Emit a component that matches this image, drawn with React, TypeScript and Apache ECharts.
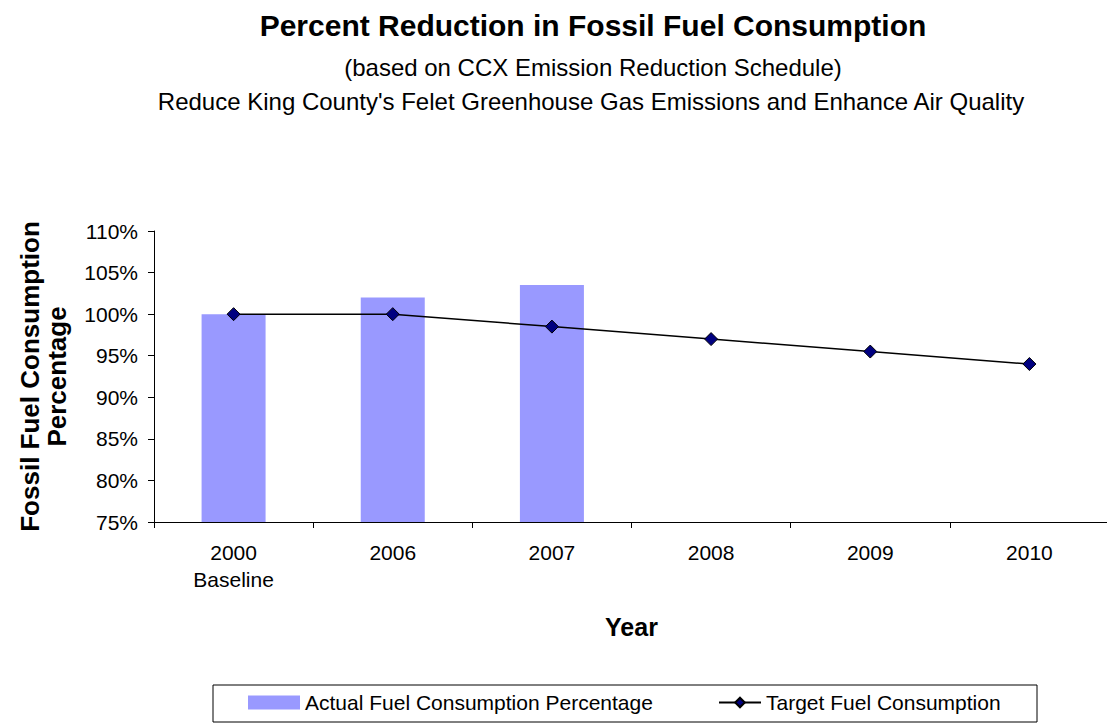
import React, { useEffect, useRef } from "react";
import * as echarts from "echarts";

const categories = ["2000\nBaseline", "2006", "2007", "2008", "2009", "2010"];
const actualValues: (number | null)[] = [100, 102, 103.5, null, null, null];
const targetValues = [100, 100, 98.5, 97, 95.5, 94];
const yTicks = { min: 75, max: 110, interval: 5 };

const FONT = "'Liberation Sans', Arial, sans-serif";

export default function App() {
  const ref = useRef<HTMLDivElement>(null);
  useEffect(() => {
    if (!ref.current) return;
    const chart = echarts.init(ref.current, undefined, { renderer: "svg" });
    chart.setOption({
      animation: false,
      backgroundColor: "#ffffff",
      textStyle: { fontFamily: FONT, color: "#000" },
      title: [
        {
          text: "Percent Reduction in Fossil Fuel Consumption",
          left: 593,
          top: 10,
          padding: 0,
          textAlign: "center",
          textStyle: { fontFamily: FONT, fontSize: 30, fontWeight: "bold", color: "#000" },
        },
        {
          text: "(based on CCX Emission Reduction Schedule)",
          left: 593,
          top: 55,
          padding: 0,
          textAlign: "center",
          textStyle: { fontFamily: FONT, fontSize: 24, fontWeight: "normal", color: "#000" },
        },
        {
          text: "Reduce King County's Felet Greenhouse Gas Emissions and Enhance Air Quality",
          left: 591,
          top: 89,
          padding: 0,
          textAlign: "center",
          textStyle: { fontFamily: FONT, fontSize: 24, fontWeight: "normal", color: "#000" },
        },
      ],
      legend: [
        {
          left: 248,
          top: 692,
          padding: 0,
          itemWidth: 52,
          itemHeight: 14,
          textStyle: { fontFamily: FONT, fontSize: 21, color: "#000" },
          data: [{ name: "Actual Fuel Consumption Percentage", icon: "rect" }],
        },
        {
          left: 718,
          top: 692,
          padding: 0,
          itemWidth: 42,
          itemHeight: 12,
          textStyle: { fontFamily: FONT, fontSize: 21, color: "#000" },
          data: [{ name: "Target Fuel Consumption" }],
        },
      ],
      graphic: [
        {
          type: "rect",
          shape: { x: 213, y: 685, width: 824, height: 37 },
          style: { fill: "none", stroke: "#000", lineWidth: 1 },
          silent: true,
        },
      ],
      grid: {
        left: 154,
        top: 231,
        width: 955,
        height: 291,
        containLabel: false,
        outerBoundsMode: "none",
      },
      xAxis: {
        type: "category",
        data: categories,
        name: "Year",
        nameLocation: "middle",
        nameGap: 92,
        nameTextStyle: { fontFamily: FONT, fontSize: 25, fontWeight: "bold", color: "#000" },
        axisLine: { lineStyle: { color: "#000", width: 1 } },
        axisTick: { show: true, length: 6, lineStyle: { color: "#000" } },
        axisLabel: { fontFamily: FONT, fontSize: 21, color: "#000", margin: 17, lineHeight: 27 },
      },
      yAxis: {
        type: "value",
        min: yTicks.min,
        max: yTicks.max,
        interval: yTicks.interval,
        name: "Fossil Fuel Consumption\nPercentage",
        nameLocation: "middle",
        nameGap: 84,
        nameTextStyle: { fontFamily: FONT, fontSize: 26, fontWeight: "bold", color: "#000", lineHeight: 27 },
        axisLine: { show: true, lineStyle: { color: "#000", width: 1 } },
        axisTick: { show: true, length: 6, lineStyle: { color: "#000" } },
        splitLine: { show: false },
        axisLabel: { fontFamily: FONT, fontSize: 21, color: "#000", margin: 16, formatter: "{value}%" },
      },
      series: [
        {
          name: "Actual Fuel Consumption Percentage",
          type: "bar",
          data: actualValues,
          barWidth: 64,
          itemStyle: { color: "#9999FF" },
        },
        {
          name: "Target Fuel Consumption",
          type: "line",
          data: targetValues,
          symbol: "diamond",
          symbolSize: 13,
          lineStyle: { color: "#000", width: 1.5 },
          itemStyle: { color: "#000080", borderColor: "#000", borderWidth: 1 },
        },
      ],
    });
    return () => chart.dispose();
  }, []);
  return (
    <div
      ref={ref}
      style={{ position: "fixed", left: 0, top: 0, width: 1107, height: 726 }}
    />
  );
}
